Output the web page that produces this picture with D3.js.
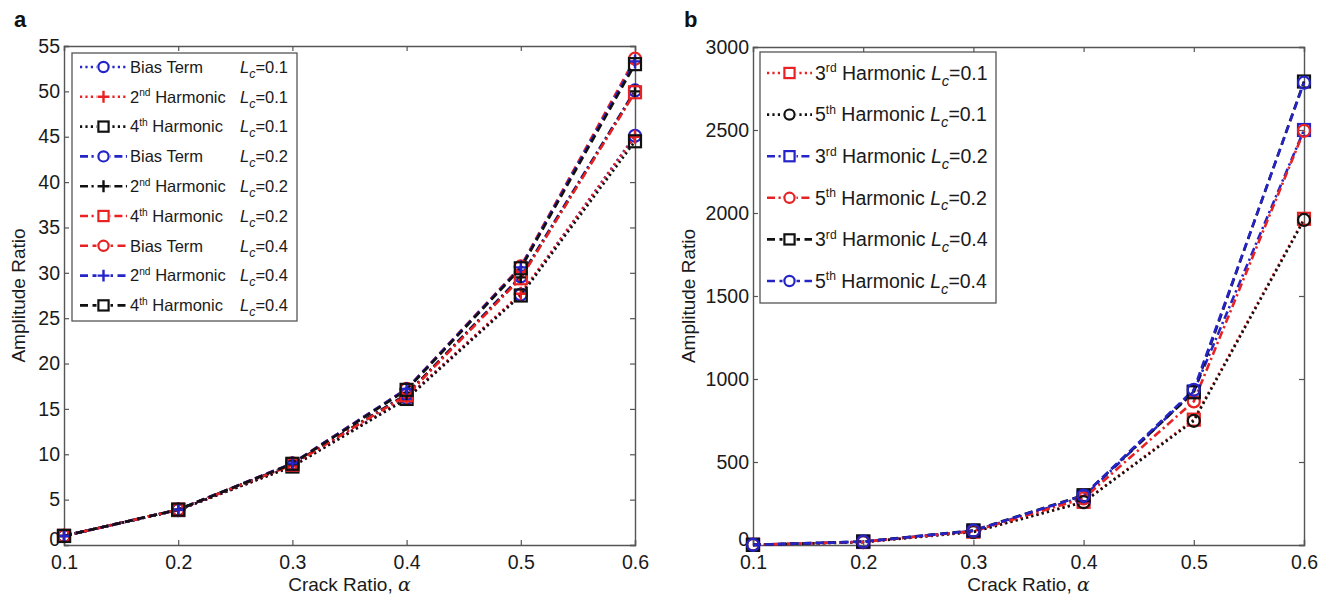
<!DOCTYPE html>
<html><head><meta charset="utf-8">
<script src="https://cdn.jsdelivr.net/npm/d3@7"></script>
<style>body{margin:0;background:#fff}svg{display:block;font-family:"Liberation Sans",Arial,sans-serif}</style>
</head><body><svg id="c" width="1328" height="597"></svg>
<script>
// ---------- data ----------
const crackRatio = [0.1, 0.2, 0.3, 0.4, 0.5, 0.6];
const xTicks = [0.1, 0.2, 0.3, 0.4, 0.5, 0.6];
const yTicksA = [0,5,10,15,20,25,30,35,40,45,50,55];
const yTicksB = [0,500,1000,1500,2000,2500,3000];

// chart a
const biasL01 = [1, 3.85, 8.7, 16.2, 27.6, 45.1];
const h2L01   = [1, 3.85, 8.7, 16.2, 27.7, 45.0];
const h4L01   = [1, 3.85, 8.65, 16.1, 27.5, 44.5];
const biasL02 = [1, 3.9, 8.9, 16.6, 29.6, 50.1];
const h2L02   = [1, 3.9, 8.9, 16.6, 29.5, 50.0];
const h4L02   = [1, 3.9, 8.85, 16.5, 29.4, 49.9];
const biasL04 = [1, 3.9, 9.0, 17.2, 30.7, 53.6];
const h2L04   = [1, 3.9, 9.0, 17.2, 30.6, 53.3];
const h4L04   = [1, 3.9, 8.95, 17.1, 30.5, 53.0];
const seriesNamesA = ["Bias Term","2nd Harmonic","4th Harmonic","Bias Term","2nd Harmonic","4th Harmonic","Bias Term","2nd Harmonic","4th Harmonic"];
const seriesLcA = ["0.1","0.1","0.1","0.2","0.2","0.2","0.4","0.4","0.4"];

// chart b
const h3L01 = [1, 18, 80, 260, 755, 1965];
const h5L01 = [1, 17, 78, 258, 748, 1958];
const h3L02 = [1, 20, 85, 290, 925, 2500];
const h5L02 = [1, 19, 83, 280, 865, 2495];
const h3L04 = [1, 21, 88, 300, 920, 2792];
const h5L04 = [1, 20, 86, 298, 935, 2785];
const seriesNamesB = ["3rd Harmonic","5th Harmonic","3rd Harmonic","5th Harmonic","3rd Harmonic","5th Harmonic"];
const seriesLcB = ["0.1","0.1","0.2","0.2","0.4","0.4"];

// ---------- styles ----------
const BLUE = "#2424c8", RED = "#e82222", BLACK = "#111";
const dash = {dot: "2.2,3.2", dashdot: "8,3.5,2.2,3.5", dashed: "8,4.5"};

const seriesA = [
  {v: biasL01, c: BLUE, d: dash.dot, m: "circle"},
  {v: h2L01, c: RED, d: dash.dot, m: "plus"},
  {v: h4L01, c: BLACK, d: dash.dot, m: "square"},
  {v: biasL02, c: BLUE, d: dash.dashdot, m: "circle"},
  {v: h2L02, c: BLACK, d: dash.dashdot, m: "plus"},
  {v: h4L02, c: RED, d: dash.dashdot, m: "square"},
  {v: biasL04, c: RED, d: dash.dashed, m: "circle"},
  {v: h2L04, c: BLUE, d: dash.dashed, m: "plus"},
  {v: h4L04, c: BLACK, d: dash.dashed, m: "square"}
].map((s,i)=>Object.assign(s,{name: seriesNamesA[i], lc: seriesLcA[i]}));

const seriesB = [
  {v: h3L01, c: RED, d: dash.dot, m: "square"},
  {v: h5L01, c: BLACK, d: dash.dot, m: "circle"},
  {v: h3L02, c: BLUE, d: dash.dashdot, m: "square"},
  {v: h5L02, c: RED, d: dash.dashdot, m: "circle"},
  {v: h3L04, c: BLACK, d: dash.dashed, m: "square"},
  {v: h5L04, c: BLUE, d: dash.dashed, m: "circle"}
].map((s,i)=>Object.assign(s,{name: seriesNamesB[i], lc: seriesLcB[i]}));

const svg = d3.select("#c");

function marker(g, type, x, y, color, size) {
  const s = size || 1;
  if (type === "circle") {
    g.append("circle").attr("cx", x).attr("cy", y).attr("r", 6*s)
      .attr("fill", "none").attr("stroke", color).attr("stroke-width", 2.2);
  } else if (type === "square") {
    g.append("rect").attr("x", x-6*s).attr("y", y-6*s).attr("width", 12*s).attr("height", 12*s)
      .attr("fill", "none").attr("stroke", color).attr("stroke-width", 2.2);
  } else {
    g.append("path").attr("d", `M${x-7*s},${y}H${x+7*s}M${x},${y-7*s}V${y+7*s}`)
      .attr("stroke", color).attr("stroke-width", 2.4).attr("fill", "none");
  }
}

function legendLabel(t, name, fs) {
  const m = name.match(/^(\d)(st|nd|rd|th)( .*)$/);
  if (m) {
    t.append("tspan").text(m[1]);
    t.append("tspan").text(m[2]).attr("font-size", fs*0.62).attr("dy", -fs*0.38);
    t.append("tspan").text(m[3]).attr("dy", fs*0.38);
  } else {
    t.append("tspan").text(name);
  }
}
function lcLabel(t, lc, fs) {
  t.append("tspan").text("L").attr("font-style", "italic");
  t.append("tspan").text("c").attr("font-style", "italic").attr("font-size", fs*0.75).attr("dy", fs*0.3);
  t.append("tspan").text("=" + lc).attr("dy", -fs*0.3);
}

function drawChart(cfg) {
  const {left, right, top, bottom, ymax, yTicks, series, tag, tagX} = cfg;
  const x = d3.scaleLinear().domain([0.1, 0.6]).range([left, right]);
  const y = d3.scaleLinear().domain([0, ymax]).range([bottom, top]);
  const g = svg.append("g");
  const axCol = "#555";

  svg.append("text").attr("x", tagX).attr("y", 27).text(tag)
    .attr("font-size", 22).attr("font-weight", "bold").attr("fill", "#111");

  const fs = 19.5;
  const ax = [
    g.append("g").attr("transform", `translate(0,${bottom})`).call(d3.axisBottom(x).tickValues(xTicks).tickSize(-5).tickPadding(10).tickFormat(d3.format(".1f"))),
    g.append("g").attr("transform", `translate(0,${top})`).call(d3.axisTop(x).tickValues(xTicks).tickSize(-5).tickFormat("")),
    g.append("g").attr("transform", `translate(${left},0)`).call(d3.axisLeft(y).tickValues(yTicks).tickSize(-5).tickPadding(4).tickFormat(d3.format("d"))),
    g.append("g").attr("transform", `translate(${right},0)`).call(d3.axisRight(y).tickValues(yTicks).tickSize(-5).tickFormat(""))
  ];
  ax.forEach(a => {
    a.selectAll("path.domain").attr("stroke", axCol).attr("stroke-width", 1.4);
    a.selectAll(".tick line").attr("stroke", axCol).attr("stroke-width", 1.2);
    a.selectAll("text").attr("font-size", fs).attr("fill", "#1a1a1a").attr("font-family", "Liberation Sans, Arial, sans-serif");
  });
  // lift the "0" label slightly so it does not collide with "0.1"
  ax[2].selectAll(".tick text").filter(d => d === 0).attr("dy", "0.05em");

  const xt = svg.append("text").attr("x", (left+right)/2).attr("y", bottom + 46)
    .attr("text-anchor", "middle").attr("font-size", 19).attr("fill", "#1a1a1a");
  xt.append("tspan").text("Crack Ratio, ");
  xt.append("tspan").text("α").attr("font-style", "italic").attr("font-family", "DejaVu Serif, serif");
  svg.append("text").attr("transform", `translate(${cfg.ylabX},${(top+bottom)/2}) rotate(-90)`)
    .attr("text-anchor", "middle").attr("font-size", 19).attr("fill", "#1a1a1a").text("Amplitude Ratio");

  const line = d3.line().x((d,i)=>x(crackRatio[i])).y(d=>y(d));
  series.forEach(s => {
    g.append("path").datum(s.v).attr("d", line).attr("fill", "none")
      .attr("stroke", s.c).attr("stroke-width", 2.6).attr("stroke-dasharray", s.d);
  });
  series.forEach(s => {
    const mg = g.append("g");
    s.v.forEach((d,i) => marker(mg, s.m, x(crackRatio[i]), y(d), s.c, 1));
  });

  const L = cfg.legend;
  const lg = svg.append("g");
  lg.append("rect").attr("x", L.x).attr("y", L.y).attr("width", L.w).attr("height", L.h)
    .attr("fill", "#fff").attr("stroke", axCol).attr("stroke-width", 1.3);
  series.forEach((s, i) => {
    const yy = L.y + L.first + i * L.step;
    lg.append("line").attr("x1", L.x + L.l1).attr("x2", L.x + L.l2).attr("y1", yy).attr("y2", yy)
      .attr("stroke", s.c).attr("stroke-width", 2.6).attr("stroke-dasharray", s.d);
    const mx = L.x + (L.l1 + L.l2)/2;
    lg.append("rect").attr("x", mx-7).attr("y", yy-7).attr("width", 14).attr("height", 14).attr("fill", "#fff");
    marker(lg, s.m, mx, yy, s.c, 0.85);
    const t = lg.append("text").attr("x", L.x + L.tx).attr("y", yy + L.fs*0.35)
      .attr("font-size", L.fs).attr("fill", "#1a1a1a");
    legendLabel(t, s.name, L.fs);
    if (L.lcx) {
      const t2 = lg.append("text").attr("x", L.x + L.lcx).attr("y", yy + L.fs*0.35)
        .attr("font-size", L.fs).attr("fill", "#1a1a1a");
      lcLabel(t2, s.lc, L.fs);
    } else {
      t.append("tspan").text(" ");
      lcLabel(t, s.lc, L.fs);
    }
  });
}

drawChart({
  left: 64, right: 635, top: 46, bottom: 545, ymax: 55, yTicks: yTicksA, series: seriesA,
  tag: "a", tagX: 14, ylabX: 25,
  legend: {x: 72, y: 53, w: 225, h: 268, first: 14, step: 29.8, l1: 8, l2: 55, tx: 58, lcx: 168, fs: 16.5}
});
drawChart({
  left: 753, right: 1304, top: 47, bottom: 545, ymax: 3000, yTicks: yTicksB, series: seriesB,
  tag: "b", tagX: 684, ylabX: 695,
  legend: {x: 760, y: 52, w: 236, h: 251, first: 21, step: 41.6, l1: 7, l2: 52, tx: 55, lcx: null, fs: 19.5}
});
</script></body></html>
